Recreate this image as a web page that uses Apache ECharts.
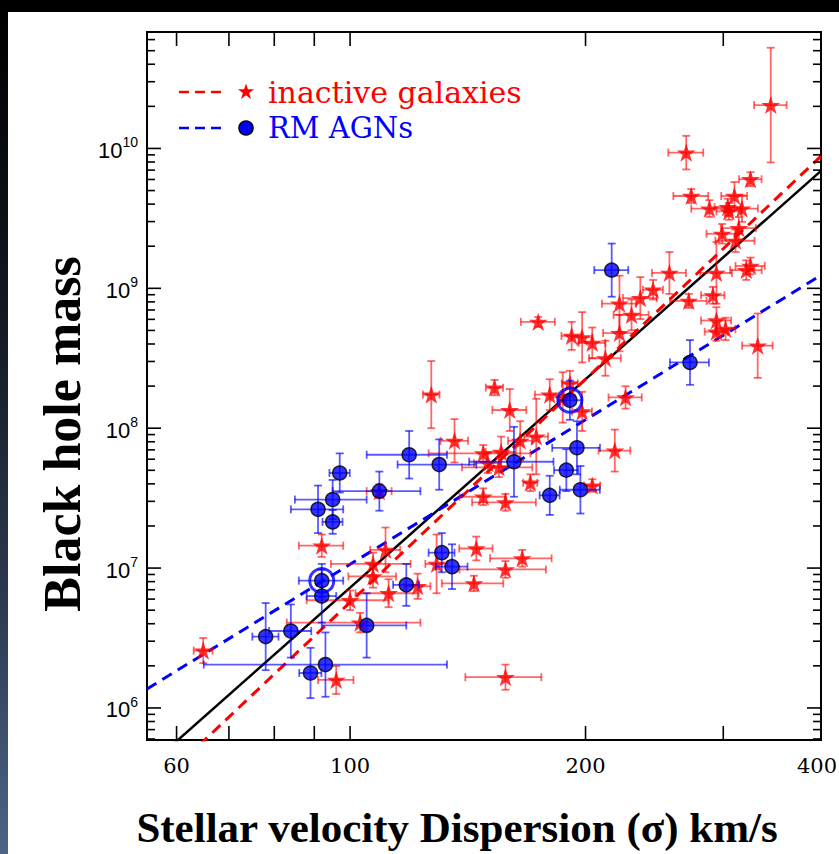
<!DOCTYPE html>
<html><head><meta charset="utf-8">
<script src="https://cdn.jsdelivr.net/npm/echarts@6/dist/echarts.min.js"></script>
<style>
html,body{margin:0;padding:0;width:839px;height:854px;overflow:hidden;background:#000;}
#strip{position:absolute;left:0;top:12px;width:8px;height:842px;background:linear-gradient(to bottom,#000 0%,#121822 35%,#2c3a50 70%,#4d6486 100%);}
#panel{position:absolute;left:8px;top:12px;right:0;bottom:0;background:#fff;}
#chart{position:absolute;left:0;top:0;width:839px;height:854px;}
</style></head><body>
<div id="strip"></div><div id="panel"></div><div id="chart"></div>
<script>
// ---- inactive galaxies: sigma (km/s), sigma error, log10 M_BH, log error (dex)
const inactiveSigma    = [64.9,345,269,325,273,288,304,310,305,317,299,314,311,321,325,294,256,244,235,221,229,271,291,294,302,294,332,221,212,174,192,198,204,127,153,160,180,187,191,198,225,136,148,156,165,173,155,150,170,148,158,204,218,92,111,107,107,112,100,103,96,145,166,158,129,144,122,158,109];
const inactiveSigmaErr = [1.8,16.5,13.8,10.8,14,15,11.6,11.8,11,15.2,13.4,16.1,17.9,14.9,14,13.7,12.8,7.2,11.7,11.1,11.8,14.6,10,13,8.9,10,14.9,10.4,9.9,8.7,5.7,6,8,3.1,3.9,8,7.7,6.6,4.5,5.8,11,5.5,22,6.9,5.8,6.1,16,6,3.5,10,14.8,4.8,10.2,6,4.9,12.5,7.5,10.4,12,20,5,7.1,15,20,4.2,13,4.7,17.6,4];
const inactiveLogM     = [6.41,10.31,9.97,9.78,9.66,9.57,9.58,9.66,9.55,9.57,9.39,9.43,9.34,9.13,9.16,9.11,9.11,8.99,8.93,8.89,8.81,8.91,8.95,8.77,8.71,8.69,8.59,8.68,8.50,8.76,8.66,8.65,8.61,8.24,8.29,8.13,8.24,8.22,8.32,8.12,8.22,7.91,7.82,7.83,7.91,7.94,7.72,7.75,7.61,7.51,7.47,7.59,7.84,7.16,7.13,7.03,6.94,6.82,6.77,6.61,6.20,7.14,7.07,6.99,7.03,6.89,6.87,6.22,7.55];
const inactiveLogMErr  = [0.09,0.41,0.12,0.05,0.05,0.06,0.06,0.10,0.06,0.095,0.07,0.08,0.08,0.07,0.06,0.22,0.15,0.07,0.15,0.20,0.11,0.05,0.06,0.095,0.08,0.065,0.23,0.13,0.125,0.035,0.10,0.18,0.11,0.24,0.055,0.15,0.11,0.18,0.09,0.14,0.08,0.155,0.06,0.11,0.14,0.27,0.07,0.07,0.06,0.06,0.06,0.045,0.15,0.08,0.16,0.08,0.08,0.10,0.07,0.07,0.10,0.085,0.06,0.06,0.21,0.055,0.09,0.09,0.05];

// ---- reverberation-mapped AGNs (sigma error may be [lower, upper])
const agnSigma    = [216,272,191,195,189,197,180,162,130,119,109,97,95,91,95,92,92,118,131,135,105,84,78,93,89];
const agnSigmaErr = [10.8,15.6,6.7,13.7,6.7,11.6,5.3,20,15,14,14,2.9,10,7,2.8,6,4,4.5,5,6.3,13,5.2,3,[28,40],2.9];
const agnLogM     = [9.13,8.47,8.20,7.86,7.70,7.56,7.52,7.76,7.74,7.81,7.55,7.68,7.49,7.42,7.33,6.91,6.80,6.88,7.11,7.01,6.59,6.55,6.51,6.31,6.25];
const agnLogMErr  = [0.19,0.16,0.14,0.19,0.15,0.17,0.14,0.25,0.18,0.17,0.14,0.14,0.14,0.17,0.085,0.12,0.19,0.15,0.14,0.16,0.23,0.19,0.24,0.23,0.18];
const highlightedAgn = [2, 15];

// ---- fitted relations (end points)
const fitSigma        = [55, 400];
const fitAllLogM      = [5.575, 9.84];
const fitInactiveLogM = [5.38, 9.945];
const fitAgnLogM      = [6.136, 9.093];

// ---- axes
const X_MIN = 55, X_MAX = 400, Y_MIN = 5.9e5, Y_MAX = 6.8e10;
const xTickValues = [60, 70, 80, 90, 100, 200, 300];
const xTickLabels = [60, 100, 200, 400];
const yMajorTicks = [1e6, 1e7, 1e8, 1e9, 1e10];
const yMinorTicks = [];
for (let e = 5; e <= 10; e++) for (let k = 2; k <= 9; k++) { const v = k * Math.pow(10, e); if (v > Y_MIN && v < Y_MAX) yMinorTicks.push(v); }

const STAR = 'M50 0 L61.23 34.55 L97.55 34.55 L68.17 55.9 L79.39 90.45 L50 69.1 L20.61 90.45 L31.83 55.9 L2.45 34.55 L38.77 34.55 Z';
function starPoints(cx, cy, r) {
  const pts = [];
  for (let i = 0; i < 10; i++) {
    const a = -Math.PI / 2 + i * Math.PI / 5, rr = i % 2 ? r * 0.382 : r;
    pts.push([cx + rr * Math.cos(a), cy + rr * Math.sin(a)]);
  }
  return pts;
}

const toPts = (s, lm, se, le) => s.map((v, i) => {
  const e = Array.isArray(se[i]) ? se[i] : [se[i], se[i]];
  return [v, Math.pow(10, lm[i]), e[0], e[1], le[i]];
});
const inactivePts = toPts(inactiveSigma, inactiveLogM, inactiveSigmaErr, inactiveLogMErr);
const agnPts = toPts(agnSigma, agnLogM, agnSigmaErr, agnLogMErr);
const fitLine = lm => fitSigma.map((s, i) => [s, Math.pow(10, lm[i])]);

function ln(x1, y1, x2, y2, style) { return {type: 'line', shape: {x1, y1, x2, y2}, style}; }
function errRender(color) {
  return function (params, api) {
    const s = api.value(0), m = api.value(1), lo = api.value(2), hi = api.value(3), me = api.value(4);
    const c = api.coord([s, m]);
    const xl = api.coord([s - lo, m]), xr = api.coord([s + hi, m]);
    const f = Math.pow(10, me);
    const yl = api.coord([s, m / f]), yh = api.coord([s, m * f]);
    const st = {stroke: color, lineWidth: 1.8};
    const cap = 4;
    return {type: 'group', children: [
      ln(xl[0], c[1], xr[0], c[1], st),
      ln(xl[0], c[1] - cap, xl[0], c[1] + cap, st),
      ln(xr[0], c[1] - cap, xr[0], c[1] + cap, st),
      ln(c[0], yl[1], c[0], yh[1], st),
      ln(c[0] - cap, yl[1], c[0] + cap, yl[1], st),
      ln(c[0] - cap, yh[1], c[0] + cap, yh[1], st)
    ]};
  };
}
const tickStyle = {stroke: '#000', lineWidth: 1.6};
const TXT = (o) => Object.assign({fill: '#000', textAlign: 'center', textVerticalAlign: 'middle', align: 'center', verticalAlign: 'middle'}, o);

const chart = echarts.init(document.getElementById('chart'), null, {renderer: 'svg'});
chart.setOption({
  animation: false,
  backgroundColor: 'transparent',
  grid: {left: 147, right: 18, top: 32, bottom: 114, show: true, borderColor: '#000', borderWidth: 2, backgroundColor: 'transparent'},
  xAxis: {type: 'log', logBase: 10, min: X_MIN, max: X_MAX,
    axisLine: {show: false}, axisTick: {show: false}, axisLabel: {show: false}, splitLine: {show: false}},
  yAxis: {type: 'log', logBase: 10, min: Y_MIN, max: Y_MAX,
    axisLine: {show: false}, axisTick: {show: false}, splitLine: {show: false},
    axisLabel: {margin: 9, showMinLabel: false, showMaxLabel: false,
      formatter: function (v) {
        const l = Math.log10(v), e = Math.round(l);
        if (Math.abs(l - e) > 1e-6) return '';
        return '{b|10}{s|' + e + '}';
      },
      rich: {
        b: {fontFamily: '"Liberation Sans", Arial, sans-serif', fontSize: 22, color: '#000', lineHeight: 26, verticalAlign: 'bottom'},
        s: {fontFamily: '"Liberation Sans", Arial, sans-serif', fontSize: 14, color: '#000', lineHeight: 26, verticalAlign: 'top'}
      }}},
  graphic: [
    {type: 'text', x: 62, y: 434, rotation: Math.PI / 2,
      style: TXT({text: 'Black hole mass', font: 'bold 52px "Liberation Serif", "Times New Roman", serif'})},
    {type: 'text', x: 457, y: 827,
      style: TXT({text: 'Stellar velocity Dispersion (σ) km/s', font: 'bold 43px "Liberation Serif", "Times New Roman", serif'})},
    // legend
    {type: 'line', shape: {x1: 179, y1: 92, x2: 189, y2: 92}, style: {stroke: '#f00', lineWidth: 2.5}},
    {type: 'line', shape: {x1: 195, y1: 92, x2: 205, y2: 92}, style: {stroke: '#f00', lineWidth: 2.5}},
    {type: 'line', shape: {x1: 211, y1: 92, x2: 221, y2: 92}, style: {stroke: '#f00', lineWidth: 2.5}},
    {type: 'polygon', shape: {points: starPoints(246, 92, 8.5)}, style: {fill: '#f00'}},
    {type: 'text', x: 268, y: 92, style: TXT({text: 'inactive galaxies', font: '30px "DejaVu Serif", serif', fill: '#f00',
      textAlign: 'left', align: 'left'})},
    {type: 'line', shape: {x1: 179, y1: 128, x2: 189, y2: 128}, style: {stroke: '#00f', lineWidth: 2.5}},
    {type: 'line', shape: {x1: 195, y1: 128, x2: 205, y2: 128}, style: {stroke: '#00f', lineWidth: 2.5}},
    {type: 'line', shape: {x1: 211, y1: 128, x2: 221, y2: 128}, style: {stroke: '#00f', lineWidth: 2.5}},
    {type: 'circle', shape: {cx: 246, cy: 128, r: 7}, style: {fill: '#00f', stroke: '#000', lineWidth: 1.5}},
    {type: 'text', x: 268, y: 128, style: TXT({text: 'RM AGNs', font: '29px "DejaVu Serif", serif', fill: '#00f',
      textAlign: 'left', align: 'left'})}
  ],
  series: [
    {name: 'fit all', type: 'line', data: fitLine(fitAllLogM), symbol: 'none', z: 1, clip: true,
      lineStyle: {color: '#000', width: 2.5}},
    {name: 'fit inactive', type: 'line', data: fitLine(fitInactiveLogM), symbol: 'none', z: 1, clip: true,
      lineStyle: {color: '#f00', width: 3, type: [11, 7]}},
    {name: 'fit agn', type: 'line', data: fitLine(fitAgnLogM), symbol: 'none', z: 1, clip: true,
      lineStyle: {color: '#00f', width: 3, type: [11, 7]}},
    {name: 'inactive err', type: 'custom', z: 2, data: inactivePts, encode: {x: 0, y: 1},
      renderItem: errRender('rgba(255,0,0,0.6)')},
    {name: 'inactive galaxies', type: 'scatter', z: 3, data: inactivePts.map(p => [p[0], p[1]]),
      symbol: 'path://' + STAR, symbolKeepAspect: true, symbolSize: 19, itemStyle: {color: '#f00'}},
    {name: 'agn err', type: 'custom', z: 4, data: agnPts, encode: {x: 0, y: 1},
      renderItem: errRender('rgba(0,0,255,0.65)')},
    {name: 'RM AGNs', type: 'scatter', z: 5, data: agnPts.map(p => [p[0], p[1]]),
      symbol: 'circle', symbolSize: 14, itemStyle: {color: '#00f', borderColor: '#000', borderWidth: 1.5}},
    {name: 'highlight', type: 'scatter', z: 6, data: highlightedAgn.map(i => [agnPts[i][0], agnPts[i][1]]),
      symbol: 'circle', symbolSize: 24, itemStyle: {color: 'rgba(0,0,0,0)', borderColor: '#00f', borderWidth: 3}},
    {name: 'x ticks', type: 'custom', z: 7, data: xTickValues.map(v => [v, Y_MIN]), encode: {x: 0, y: 1},
      renderItem: function (params, api) {
        const p = api.coord([api.value(0), Y_MIN]); const cs = params.coordSys;
        return {type: 'group', children: [
          ln(p[0], cs.y + cs.height, p[0], cs.y + cs.height - 14, tickStyle),
          ln(p[0], cs.y, p[0], cs.y + 14, tickStyle)]};
      }},
    {name: 'y ticks', type: 'custom', z: 7,
      data: yMajorTicks.map(v => [X_MIN, v, 14]).concat(yMinorTicks.map(v => [X_MIN, v, 8])), encode: {x: 0, y: 1},
      renderItem: function (params, api) {
        const p = api.coord([X_MIN, api.value(1)]); const cs = params.coordSys; const L = api.value(2);
        return {type: 'group', children: [
          ln(cs.x, p[1], cs.x + L, p[1], tickStyle),
          ln(cs.x + cs.width - L, p[1], cs.x + cs.width, p[1], tickStyle)]};
      }},
    {name: 'x labels', type: 'custom', z: 7, data: xTickLabels.map(v => [v, Y_MIN]), encode: {x: 0, y: 1},
      renderItem: function (params, api) {
        const v = api.value(0);
        const p = api.coord([v, Y_MIN]); const cs = params.coordSys;
        const label = String(v);
        const halfW = label.length * 0.636 * 21 / 2;
        const pageW = api.getWidth();
        const atEdge = p[0] + halfW > pageW - 1;
        return {type: 'text', x: atEdge ? pageW - 2 : p[0], y: cs.y + cs.height + 26,
          style: TXT({text: label, font: '21px "DejaVu Serif", serif',
            textAlign: atEdge ? 'right' : 'center', align: atEdge ? 'right' : 'center'})};
      }}
  ]
});
</script></body></html>
